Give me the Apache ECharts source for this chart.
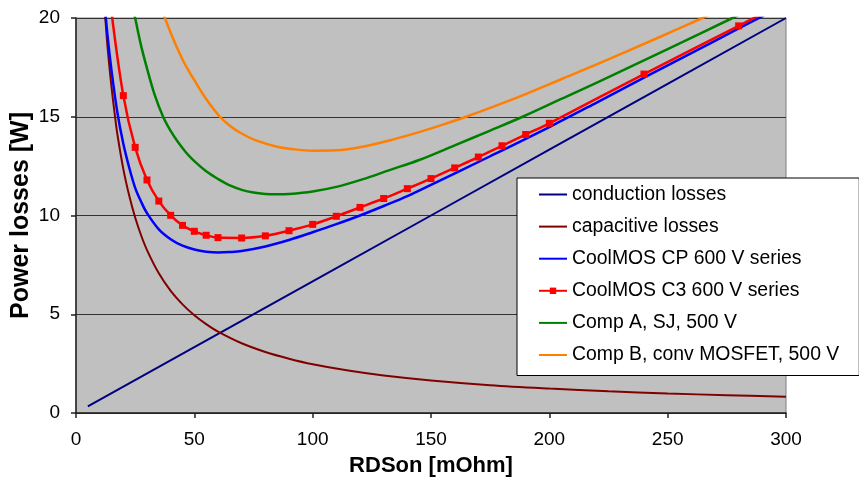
<!DOCTYPE html>
<html>
<head>
<meta charset="utf-8">
<script src="https://cdn.jsdelivr.net/npm/echarts@6/dist/echarts.min.js"></script>
<style>
  html, body { margin: 0; padding: 0; background: #fff; }
  #chart { width: 859px; height: 483px; }
</style>
</head>
<body>
<div id="chart"></div>
<script>
// Power losses vs. on-state resistance RDSon
const seriesNames = [
  'conduction losses',
  'capacitive losses',
  'CoolMOS CP 600 V series',
  'CoolMOS C3 600 V series',
  'Comp A, SJ, 500 V',
  'Comp B, conv MOSFET, 500 V'
];

const xTicks = [0, 50, 100, 150, 200, 250, 300];
const yTicks = [0, 5, 10, 15, 20];

// [RDSon mOhm, losses W]
const conductionLosses = [[5, 0.33], [50, 3.33], [100, 6.67], [150, 10], [200, 13.33], [250, 16.67], [300, 20]];

const capacitiveLosses = [
  [12, 20.6], [12.5, 19.8], [13.5, 18.3], [15, 16.5], [16.5, 15.0], [17.5, 14.1], [20, 12.35],
  [22.5, 11.0], [25, 9.9], [27.5, 9.0], [30, 8.25], [35, 7.07], [40, 6.18], [45, 5.5],
  [50, 4.95], [55, 4.5], [60, 4.12], [70, 3.53], [80, 3.09], [90, 2.75], [100, 2.47],
  [115, 2.15], [130, 1.9], [150, 1.65], [175, 1.41], [200, 1.24], [225, 1.1], [250, 0.99],
  [275, 0.9], [300, 0.82]
];

const coolmosCP = [
  [12, 20.8], [13.5, 18.9], [15, 17.35], [17.5, 15.2], [20, 13.63], [22.5, 12.42], [25, 11.4],
  [27.5, 10.7], [30, 10.12], [35, 9.3], [40, 8.8], [45, 8.47], [50, 8.28], [55, 8.17],
  [60, 8.13], [65, 8.15], [70, 8.2], [80, 8.43], [90, 8.76], [100, 9.15], [110, 9.56],
  [120, 10.0], [130, 10.48], [140, 10.98], [150, 11.55], [175, 13.0], [200, 14.48],
  [220, 15.72], [240, 16.98], [260, 18.22], [280, 19.47], [300, 20.7]
];

// points carrying a square marker
const coolmosC3 = [
  [20, 16.07], [25, 13.45], [30, 11.8], [35, 10.73], [40, 10.01], [45, 9.5], [50, 9.2],
  [55, 9.0], [60, 8.88], [70, 8.86], [80, 8.97], [90, 9.23], [100, 9.55], [110, 9.96],
  [120, 10.41], [130, 10.86], [140, 11.36], [150, 11.87], [160, 12.41], [170, 12.96],
  [180, 13.53], [190, 14.1], [200, 14.67], [240, 17.16], [280, 19.6]
];
// curve ends running past the top of the plot
const coolmosC3Ends = [[15, 20.3], [300, 20.85]];

const compA = [
  [24, 20.6], [25, 20.0], [27.5, 18.6], [30, 17.45], [33, 16.2], [36.8, 15.0], [40, 14.28],
  [43, 13.73], [46.5, 13.19], [50, 12.75], [55, 12.24], [60, 11.85], [65, 11.52], [70, 11.3],
  [75, 11.16], [80, 11.09], [85, 11.07], [90, 11.09], [100, 11.22], [110, 11.45], [121, 11.83],
  [132.5, 12.3], [145, 12.81], [160, 13.55], [175, 14.3], [188.7, 15.0], [205, 15.9],
  [221, 16.78], [250, 18.43], [277.4, 20.0], [285, 20.45]
];

const compB = [
  [36, 20.6], [37.6, 20.0], [40, 19.25], [42.5, 18.55], [45, 17.9], [47.5, 17.35], [50, 16.85],
  [55, 15.9], [60.8, 15.0], [65, 14.55], [70, 14.15], [76, 13.8], [85, 13.48], [92, 13.35],
  [100, 13.28], [110, 13.3], [121, 13.48], [132.5, 13.8], [145, 14.22], [155, 14.6],
  [164.8, 15.0], [180, 15.68], [190, 16.15], [205, 16.9], [221, 17.7], [245, 18.95],
  [264.7, 20.0], [270, 20.3]
];

const colors = ['#000080', '#800000', '#0000ff', '#ff0000', '#008000', '#ff7f00'];
const FONT = "'Liberation Sans', Arial, sans-serif";

function curve(name, data, color, width, extra) {
  return Object.assign({
    name: name,
    type: 'line',
    data: data,
    smooth: 0.35,
    showSymbol: false,
    symbol: 'none',
    clip: true,
    z: 2,
    lineStyle: { color: color, width: width },
    itemStyle: { color: color },
    emphasis: { disabled: true }
  }, extra || {});
}

const c3Data = [coolmosC3Ends[0]].concat(coolmosC3, [coolmosC3Ends[1]]).map(function (p, i, arr) {
  const edge = (i === 0 || i === arr.length - 1);
  return edge ? { value: p, symbol: 'none' } : { value: p };
});

// legend entries: plain line keys, the C3 key keeps its square marker
const legendData = seriesNames.map(function (n, i) {
  return i === 3 ? { name: n } : { name: n, itemStyle: { opacity: 0 } };
});

const chart = echarts.init(document.getElementById('chart'), null, { renderer: 'canvas' });

chart.setOption({
  animation: false,
  backgroundColor: '#ffffff',
  textStyle: { fontFamily: FONT },
  grid: {
    left: 76, right: 73, top: 18, bottom: 70,
    containLabel: false,
    outerBoundsMode: 'none',
    show: true,
    backgroundColor: '#c0c0c0',
    borderColor: '#808080',
    borderWidth: 1
  },
  legend: {
    orient: 'vertical',
    left: 517,
    top: 178,
    padding: [7, 20, 11, 21],
    itemGap: 13.1,
    itemWidth: 28,
    itemHeight: 8,
    backgroundColor: '#ffffff',
    borderColor: '#000000',
    borderWidth: 1,
    borderRadius: 0,
    selectedMode: false,
    textStyle: { fontFamily: FONT, fontSize: 19.4, color: '#000' },
    data: legendData
  },
  xAxis: {
    type: 'value',
    min: xTicks[0],
    max: xTicks[xTicks.length - 1],
    interval: xTicks[1] - xTicks[0],
    name: 'RDSon [mOhm]',
    nameLocation: 'middle',
    nameGap: 42,
    nameMoveOverlap: false,
    nameTextStyle: { fontFamily: FONT, fontSize: 22, fontWeight: 'bold', color: '#000' },
    axisLine: { show: true, onZero: false, lineStyle: { color: '#222', width: 1.5 } },
    axisTick: { show: true, inside: false, length: 5, lineStyle: { color: '#222', width: 1.5 } },
    axisLabel: { fontFamily: FONT, fontSize: 19, color: '#000', margin: 17 },
    splitLine: { show: false }
  },
  yAxis: {
    type: 'value',
    min: yTicks[0],
    max: yTicks[yTicks.length - 1],
    interval: yTicks[1] - yTicks[0],
    name: 'Power losses [W]',
    nameLocation: 'middle',
    nameGap: 42,
    nameMoveOverlap: false,
    nameRotate: 90,
    nameTextStyle: { fontFamily: FONT, fontSize: 25, fontWeight: 'bold', color: '#000' },
    axisLine: { show: true, onZero: false, lineStyle: { color: '#222', width: 1.5 } },
    axisTick: { show: true, inside: false, length: 5, lineStyle: { color: '#222', width: 1.5 } },
    axisLabel: { fontFamily: FONT, fontSize: 19, color: '#000', margin: 16 },
    splitLine: { show: true, lineStyle: { color: '#333', width: 1 } }
  },
  series: [
    curve(seriesNames[0], conductionLosses, colors[0], 2, { smooth: false }),
    curve(seriesNames[1], capacitiveLosses, colors[1], 2),
    curve(seriesNames[2], coolmosCP, colors[2], 2.5),
    curve(seriesNames[3], c3Data, colors[3], 2.5, {
      showSymbol: true,
      symbol: 'rect',
      symbolSize: 7,
      z: 3
    }),
    curve(seriesNames[4], compA, colors[4], 2.5),
    curve(seriesNames[5], compB, colors[5], 2.5)
  ]
});
</script>
</body>
</html>
